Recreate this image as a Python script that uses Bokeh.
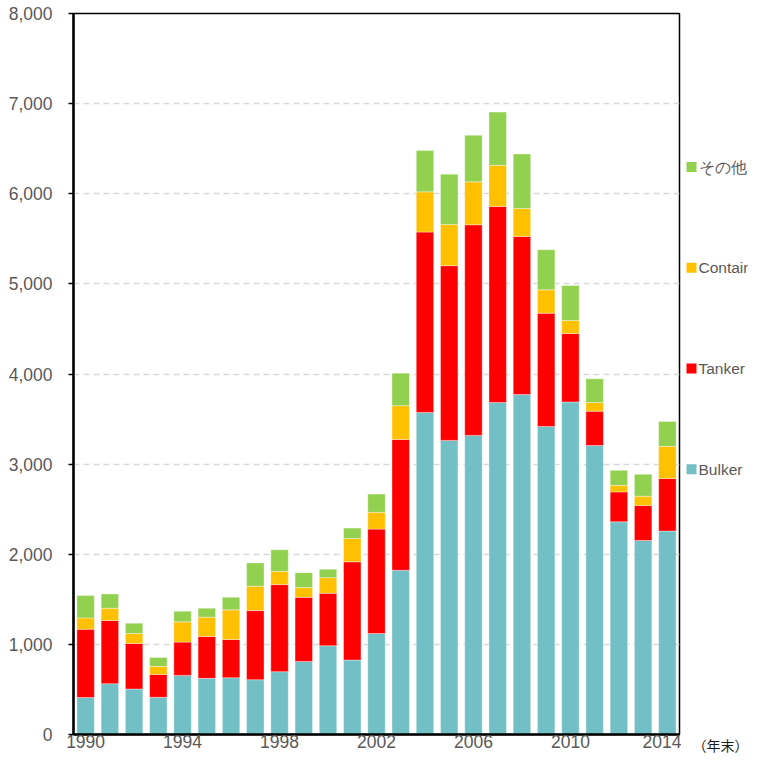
from bokeh.plotting import figure
from bokeh.layouts import row
from bokeh.models import ColumnDataSource, FixedTicker, NumeralTickFormatter, Range1d
from bokeh.core.properties import value
from bokeh.embed import file_html
from bokeh.resources import INLINE

years = list(range(1990, 2015))
bulker = [410, 564, 505, 413, 656, 623, 630, 608, 697, 811, 985, 826, 1121, 1822,
          3573, 3263, 3319, 3684, 3772, 3418, 3690, 3206, 2360, 2153, 2257]
tanker = [759, 701, 505, 254, 369, 465, 424, 767, 966, 712, 582, 1090, 1158, 1452,
          2002, 1939, 2337, 2175, 1755, 1257, 760, 382, 332, 388, 583]
container = [125, 136, 111, 89, 225, 214, 329, 270, 147, 107, 173, 260, 186, 374,
             446, 458, 476, 457, 309, 259, 144, 96, 73, 103, 357]
other = [247, 159, 114, 99, 118, 99, 140, 258, 240, 166, 93, 114, 203, 361,
         458, 557, 516, 590, 606, 446, 387, 263, 166, 243, 276]
series = ["bulker", "tanker", "container", "other"]
labels = ["Bulker", "Tanker", "Container", "その他"]
colors = ["#72BFC5", "#FF0000", "#FFC000", "#92D050"]
x_ticks = [1990, 1994, 1998, 2002, 2006, 2010, 2014]
y_ticks = [0, 1000, 2000, 3000, 4000, 5000, 6000, 7000, 8000]
unit_text = "（年末）"

src = ColumnDataSource(dict(year=years, bulker=bulker, tanker=tanker,
                            container=container, other=other))

H = 757
txt_color = "#595959"
font = "Liberation Sans"
fsize = "17.5px"

p = figure(width=681, height=H, output_backend="svg", toolbar_location=None,
           x_range=Range1d(1989.5, 2014.5), y_range=Range1d(0, 8000),
           min_border_left=73, min_border_right=2, min_border_top=13, min_border_bottom=21)

p.vbar_stack(series, x="year", width=0.72, source=src, color=colors,
             line_color="white", line_width=0.6, line_alpha=0.6)

p.xaxis.ticker = FixedTicker(ticks=x_ticks)
p.xaxis.major_tick_line_color = None
p.xaxis.minor_tick_line_color = None
p.xaxis.major_tick_out = 0
p.xaxis.major_tick_in = 0
p.xaxis.major_label_standoff = 0
p.xaxis.axis_line_width = 2.5
p.xaxis.axis_line_color = "black"
p.xaxis.major_label_text_color = txt_color
p.xaxis.major_label_text_font = font
p.xaxis.major_label_text_font_size = fsize

p.yaxis.ticker = FixedTicker(ticks=y_ticks)
p.yaxis.formatter = NumeralTickFormatter(format="0,0")
p.yaxis.minor_tick_line_color = None
p.yaxis.major_tick_out = 5
p.yaxis.major_tick_in = 0
p.yaxis.major_tick_line_width = 1.5
p.yaxis.major_tick_line_color = "black"
p.yaxis.major_label_standoff = 16
p.yaxis.axis_line_width = 2.5
p.yaxis.axis_line_color = "black"
p.yaxis.major_label_text_color = txt_color
p.yaxis.major_label_text_font = font
p.yaxis.major_label_text_font_size = fsize

p.xgrid.grid_line_color = None
p.ygrid.grid_line_color = "#D9D9D9"
p.ygrid.grid_line_dash = "6 4"
p.ygrid.grid_line_width = 1.5

p.outline_line_color = "black"
p.outline_line_width = 1.5
p.outline_line_alpha = 1

# legend panel: frame aligned with the main frame; coordinates in page pixels
lg = figure(width=748 - 681, height=H, output_backend="svg", toolbar_location=None,
            x_range=Range1d(681, 748), y_range=Range1d(736, 13),
            y_axis_location=None,
            min_border_left=0, min_border_right=0, min_border_top=13, min_border_bottom=21)
lg.grid.visible = False
lg.outline_line_color = None

unit_x = 720
lg.xaxis.ticker = FixedTicker(ticks=[unit_x])
lg.xaxis.major_label_overrides = {unit_x: unit_text}
lg.xaxis.axis_line_color = None
lg.xaxis.major_tick_line_color = None
lg.xaxis.minor_tick_line_color = None
lg.xaxis.major_tick_out = 0
lg.xaxis.major_tick_in = 0
lg.xaxis.major_label_standoff = 0
lg.xaxis.major_label_text_font = "Noto Sans CJK JP"
lg.xaxis.major_label_text_font_size = "14px"
lg.xaxis.major_label_text_color = "#1A1A1A"

leg_y = [470, 369, 268, 167]  # Bulker, Tanker, Container, その他
lsrc = ColumnDataSource(dict(y=leg_y, label=labels, color=colors,
                             mx=[691] * 4, tx=[698] * 4))
lg.scatter(x="mx", y="y", marker="square", size=10, fill_color="color",
           line_color=None, source=lsrc)
lg.text(x="tx", y="y", text="label", source=lsrc, text_font=value(font),
        text_font_size="15.5px", text_color=txt_color, text_baseline="middle",
        text_align="left")

layout = row(p, lg)
open("out.html", "w").write(file_html(layout, INLINE))
